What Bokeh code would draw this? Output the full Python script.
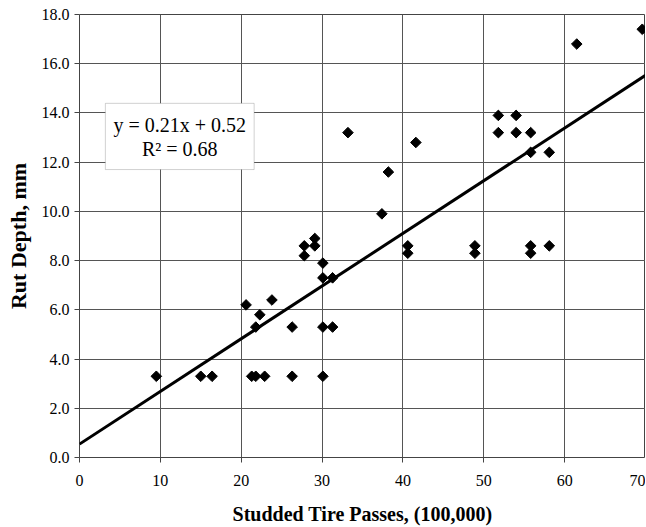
import numpy as np
from bokeh.plotting import figure
from bokeh.models import BoxAnnotation, Label, FixedTicker, PrintfTickFormatter, Range1d
from bokeh.embed import file_html
from bokeh.resources import INLINE

# Data
passes = [9.5, 15.0, 16.4, 20.6, 21.3, 21.8, 22.9, 21.8, 22.3, 23.8,
          26.3, 26.3, 27.8, 27.8, 29.1, 29.1, 30.1, 30.1, 30.1, 30.1,
          31.3, 31.3, 33.2, 37.4, 38.2, 40.6, 40.6, 41.6, 48.9, 48.9,
          51.8, 51.8, 54.0, 54.0, 55.8, 55.8, 55.8, 55.8, 58.1, 58.1,
          61.5, 69.6]
rut = [3.3, 3.3, 3.3, 6.2, 3.3, 3.3, 3.3, 5.3, 5.8, 6.4,
       5.3, 3.3, 8.2, 8.6, 8.6, 8.9, 7.9, 7.3, 5.3, 3.3,
       7.3, 5.3, 13.2, 9.9, 11.6, 8.6, 8.3, 12.8, 8.6, 8.3,
       13.9, 13.2, 13.9, 13.2, 13.2, 12.4, 8.6, 8.3, 12.4, 8.6,
       16.8, 17.4]
x_ticks = [0, 10, 20, 30, 40, 50, 60, 70]
y_ticks = [0, 2, 4, 6, 8, 10, 12, 14, 16, 18]
eq_text = "y = 0.21x + 0.52"
r2_text = "R² = 0.68"

# Trend line (least squares over the points)
slope, intercept = np.polyfit(passes, rut, 1)
line_x = [0, 70]
line_y = [intercept + slope * v for v in line_x]

p = figure(width=645, height=527, output_backend="svg", toolbar_location=None,
           x_range=Range1d(0, 70), y_range=Range1d(0, 18),
           min_border_left=79, min_border_right=0, min_border_top=14, min_border_bottom=64)
p.background_fill_color = "white"
p.outline_line_color = "#444444"
p.outline_line_width = 1

serif = "Liberation Serif"
p.xaxis.ticker = FixedTicker(ticks=x_ticks)
p.yaxis.ticker = FixedTicker(ticks=y_ticks)
p.yaxis.formatter = PrintfTickFormatter(format="%.1f")
for ax in (p.xaxis, p.yaxis):
    ax.major_label_text_font = serif
    ax.major_label_text_font_size = "16px"
    ax.major_label_text_color = "black"
    ax.axis_label_text_font = serif
    ax.axis_label_text_font_style = "bold"
    ax.axis_label_text_color = "black"
    ax.axis_line_color = None
    ax.major_tick_line_color = "#444444"
    ax.major_tick_out = 5
    ax.major_tick_in = 0
    ax.minor_tick_line_color = None
p.xaxis.axis_label_text_font_size = "20px"
p.yaxis.axis_label_text_font_size = "22px"
p.xaxis.axis_label = "Studded Tire Passes, (100,000)"
p.yaxis.axis_label = "Rut Depth, mm"
p.xaxis.major_label_standoff = 12
p.xaxis.axis_label_standoff = 14
p.yaxis.major_label_standoff = 5
p.yaxis.axis_label_standoff = 8

p.grid.grid_line_color = "#555555"
p.grid.grid_line_width = 1
p.xgrid.ticker = FixedTicker(ticks=x_ticks)
p.ygrid.ticker = FixedTicker(ticks=y_ticks)

p.scatter(passes, rut, marker="square", angle=np.pi / 4, size=7.5, color="black")
p.line(line_x, line_y, line_width=3, color="black")

box = BoxAnnotation(left=3.2, right=21.6, bottom=11.7, top=14.39,
                    fill_color="white", fill_alpha=1.0,
                    line_color="#666666", line_width=1, level="overlay")
p.add_layout(box)
p.add_layout(Label(x=12.4, y=13.5, text=eq_text, text_font=serif, text_font_size="20px",
                   text_align="center", text_baseline="middle", text_color="black", level="overlay"))
p.add_layout(Label(x=12.4, y=12.55, text=r2_text, text_font=serif, text_font_size="20px",
                   text_align="center", text_baseline="middle", text_color="black", level="overlay"))

open("out.html", "w").write(file_html(p, INLINE))
